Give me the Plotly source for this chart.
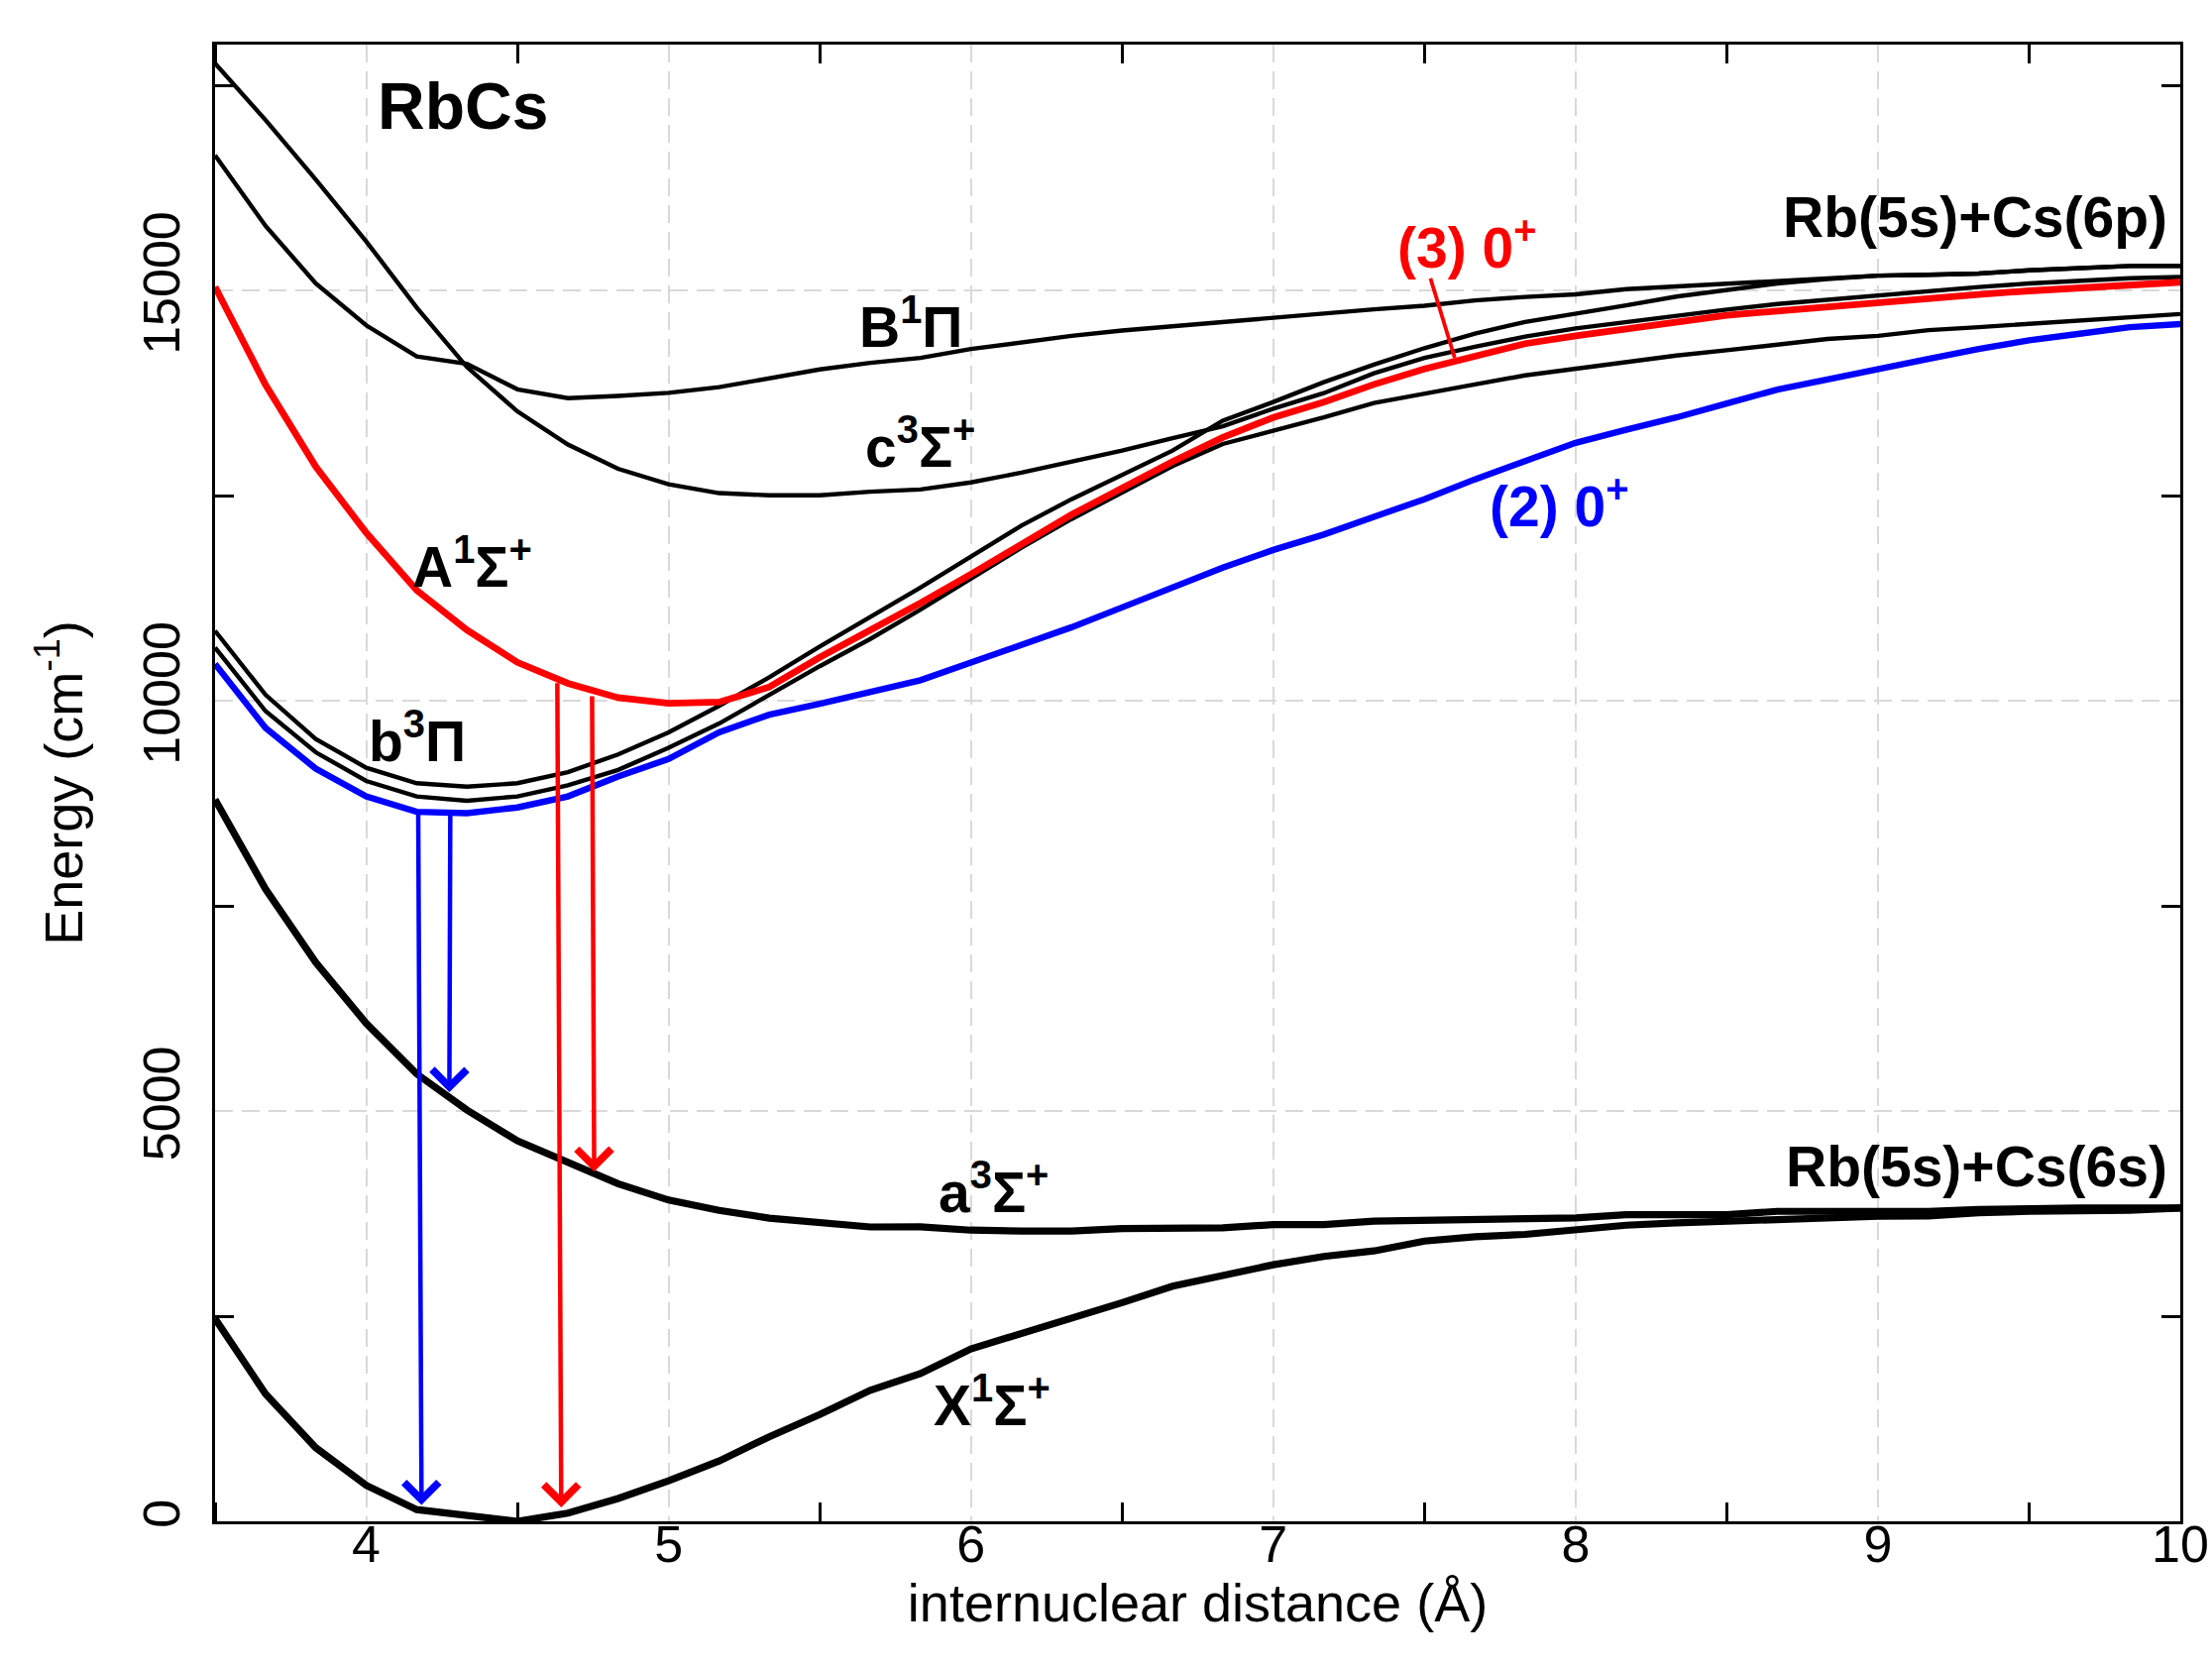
import plotly.graph_objects as go

# internuclear distance grid (Angstrom)
R = [3.5, 3.667, 3.833, 4.0, 4.167, 4.333, 4.5, 4.667, 4.833, 5.0,
     5.167, 5.333, 5.5, 5.667, 5.833, 6.0, 6.167, 6.333, 6.5, 6.667,
     6.833, 7.0, 7.167, 7.333, 7.5, 7.667, 7.833, 8.0, 8.167, 8.333,
     8.5, 8.667, 8.833, 9.0, 9.167, 9.333, 9.5, 9.667, 9.833, 10.0]

# potential energy curves (cm^-1)
X1S = [2469, 1553, 897, 439, 143, 62, 0, 100, 278, 493,
       735, 1031, 1301, 1597, 1801, 2102, 2283, 2464, 2665, 2866,
       3007, 3127, 3228, 3296, 3416, 3469, 3497, 3549, 3609, 3637,
       3658, 3690, 3710, 3718, 3722, 3762, 3778, 3778, 3790, 3818]
a3S = [8798, 7706, 6812, 6070, 5453, 5014, 4637, 4368, 4115, 3916,
       3790, 3696, 3652, 3588, 3589, 3549, 3537, 3537, 3569, 3577,
       3577, 3617, 3617, 3658, 3666, 3666, 3690, 3698, 3738, 3738,
       3738, 3778, 3778, 3778, 3778, 3802, 3818, 3818, 3818, 3818]
b3P_1 = [10854, 10074, 9536, 9186, 8997, 8954, 8997, 9132, 9347, 9616,
         9939, 10289, 10662, 11020, 11382, 11759, 12136, 12459, 12755, 13051,
         13417, 13643, 13885, 14100, 14300, 14477, 14620, 14716, 14822, 14928,
         15008, 15088, 15141, 15184, 15194, 15210, 15248, 15274, 15301, 15301]
b3P_2 = [10650, 9875, 9374, 9024, 8836, 8782, 8836, 8971, 9159, 9428,
         9724, 10074, 10423, 10755, 11113, 11490, 11867, 12217, 12539, 12863,
         13132, 13293, 13455, 13632, 13750, 13858, 13968, 14050, 14130, 14210,
         14274, 14343, 14412, 14450, 14519, 14556, 14593, 14636, 14678, 14716]
c3S = [17770, 17081, 16355, 15601, 14794, 14070, 13529, 13125, 12829, 12641,
       12533, 12506, 12506, 12550, 12577, 12663, 12782, 12916, 13051, 13202,
       13347, 13562, 13751, 13993, 14181, 14316, 14440, 14540, 14620, 14700,
       14770, 14838, 14891, 14944, 14998, 15045, 15088, 15125, 15152, 15168]
B1P = [16651, 15790, 15090, 14578, 14200, 14110, 13798, 13690, 13717, 13755,
       13825, 13933, 14040, 14120, 14181, 14289, 14370, 14450, 14515, 14569,
       14612, 14676, 14730, 14773, 14816, 14881, 14924, 14955, 15019, 15051,
       15083, 15114, 15141, 15184, 15194, 15210, 15248, 15274, 15301, 15301]
A1S_30 = [15047, 13852, 12856, 12049, 11349, 10865, 10470, 10214, 10040, 9970,
          9985, 10170, 10531, 10860, 11194, 11544, 11920, 12270, 12593, 12917,
          13212, 13455, 13643, 13858, 14047, 14208, 14355, 14450, 14529, 14609,
          14700, 14753, 14806, 14860, 14913, 14955, 14998, 15035, 15072, 15104]
b_20 = [10451, 9670, 9175, 8836, 8648, 8632, 8701, 8836, 9078, 9293,
        9616, 9832, 9966, 10110, 10252, 10467, 10683, 10898, 11140, 11382,
        11624, 11840, 12028, 12243, 12459, 12701, 12925, 13146, 13306, 13455,
        13625, 13795, 13918, 14050, 14168, 14290, 14396, 14476, 14556, 14593]

# transition arrows: (R_start, E_start, R_end, E_end)
blue_arrows = [(4.172, 8648, 4.183, 198), (4.278, 8621, 4.275, 5230)]
red_arrows = [(4.632, 10236, 4.645, 170), (4.747, 10075, 4.754, 4261)]

# pointer from "(3) 0+" label to red curve
pointer_R = [7.52, 7.60]
pointer_E = [15150, 14182]

# state labels: (text, R, E, color, size, xanchor)
labels = [
    ("RbCs", 4.319, 17251, "black", 66, "center"),
    ("B<sup>1</sup>Π", 5.804, 14605, "black", 57, "center"),
    ("c<sup>3</sup>Σ<sup>+</sup>", 5.832, 13144, "black", 57, "center"),
    ("A<sup>1</sup>Σ<sup>+</sup>", 4.352, 11684, "black", 57, "center"),
    ("b<sup>3</sup>Π", 4.170, 9553, "black", 57, "center"),
    ("(3) 0<sup>+</sup>", 7.643, 15567, "red", 57, "center"),
    ("(2) 0<sup>+</sup>", 7.947, 12423, "blue", 57, "center"),
    ("Rb(5s)+Cs(6p)", 9.963, 15893, "black", 57, "right"),
    ("a<sup>3</sup>Σ<sup>+</sup>", 6.075, 4055, "black", 57, "center"),
    ("Rb(5s)+Cs(6s)", 9.963, 4330, "black", 57, "right"),
    ("X<sup>1</sup>Σ<sup>+</sup>", 6.070, 1460, "black", 57, "center"),
]

FONT = "Liberation Sans, Arial, Helvetica, sans-serif"

fig = go.Figure()

def add_curve(y, color, width):
    fig.add_trace(go.Scatter(x=R, y=y, mode="lines",
                             line=dict(color=color, width=width),
                             hoverinfo="skip", showlegend=False))

for y in (B1P, c3S, b3P_1, b3P_2):
    add_curve(y, "black", 4.4)
add_curve(X1S, "black", 7.2)
add_curve(a3S, "black", 7.2)
add_curve(A1S_30, "#ff0000", 6.8)
add_curve(b_20, "#0000ff", 6.4)

fig.add_trace(go.Scatter(x=pointer_R, y=pointer_E, mode="lines",
                         line=dict(color="#ff0000", width=3.8),
                         hoverinfo="skip", showlegend=False))

annotations = []
for arrows, col in ((blue_arrows, "#0000ff"), (red_arrows, "#ff0000")):
    for (x0, y0, x1, y1) in arrows:
        annotations.append(dict(x=x1, y=y1, ax=x0, ay=y0, xref="x", yref="y",
                                axref="x", ayref="y", text="", showarrow=True,
                                arrowhead=4, arrowsize=1.5, arrowwidth=4.5,
                                arrowcolor=col, standoff=0))
for (txt, x, y, col, size, xa) in labels:
    annotations.append(dict(x=x, y=y, xref="x", yref="y", text="<b>%s</b>" % txt,
                            showarrow=False, xanchor=xa, yanchor="middle",
                            font=dict(family=FONT, size=size, color=col)))

axis_common = dict(showline=True, linecolor="black", linewidth=2.5, mirror="allticks",
                   showgrid=True, gridcolor="#d9d9d9", gridwidth=2, griddash="18px,9px",
                   zeroline=False, ticks="", automargin=False,
                   ticklabeloverflow="allow",
                   tickfont=dict(family=FONT, size=52, color="black"))

fig.update_layout(
    width=2232, height=1682,
    margin=dict(l=217, r=32, t=45, b=147),
    plot_bgcolor="white", paper_bgcolor="white",
    showlegend=False,
    font=dict(family=FONT, color="black"),
    annotations=annotations,
    xaxis=dict(range=[3.5, 10], tick0=0, dtick=1, ticklabelstandoff=-24,
               minor=dict(tick0=0, dtick=0.5, ticks="inside", ticklen=19,
                          tickwidth=2.5, tickcolor="black", showgrid=False),
               title=dict(text="internuclear distance (Å)",
                          font=dict(family=FONT, size=54), standoff=4),
               **axis_common),
    yaxis=dict(range=[0, 18000], tick0=0, dtick=5000, tickformat="d", tickangle=-90,
               ticklabelstandoff=12,
               minor=dict(tick0=0, dtick=2500, ticks="inside", ticklen=19,
                          tickwidth=2.5, tickcolor="black", showgrid=False),
               title=dict(text="Energy (cm<sup>-1</sup>)",
                          font=dict(family=FONT, size=54), standoff=34),
               **axis_common),
)

# remove the default page margin so the figure fills the window exactly
fig.write_html("out.html",
               config={"displayModeBar": False},
               post_script="document.body.style.margin='0';document.body.style.overflow='hidden';")
